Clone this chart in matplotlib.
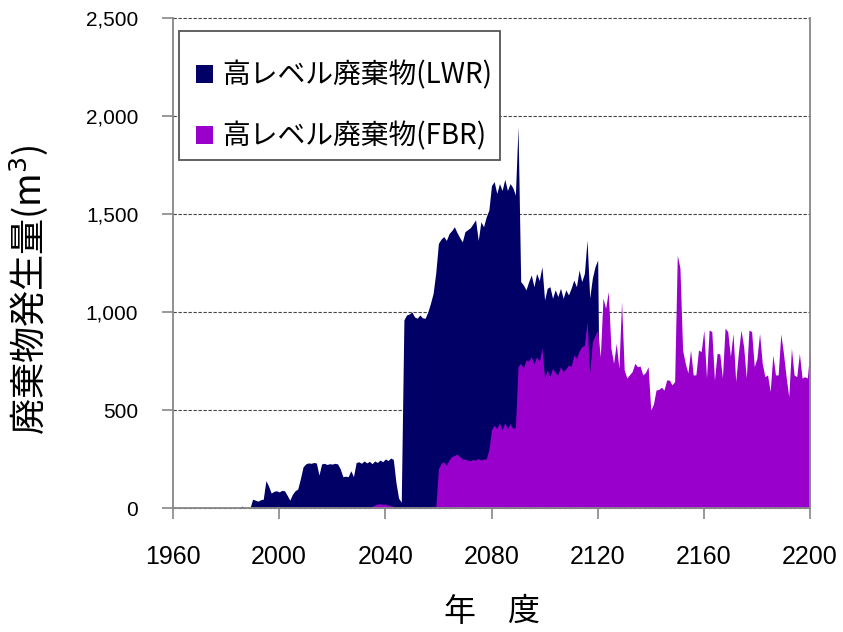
import numpy as np
import matplotlib
matplotlib.use("Agg")
import matplotlib.pyplot as plt
from matplotlib.patches import Rectangle

NAVY = "#000066"
PURPLE = "#9900CC"
CJK = ["Noto Sans CJK JP", "DejaVu Sans"]

# High-level waste, LWR (year, m3)
lwr_years = [1960, 1985, 1986, 1987, 1989, 1990, 1991, 1992, 1993, 1994, 1995, 1996, 1997, 1998, 1999,
             2000, 2001, 2002, 2003, 2004, 2005, 2006, 2007, 2008, 2009, 2010, 2011, 2012, 2013, 2014,
             2015, 2016, 2017, 2018, 2019, 2020, 2021, 2022, 2023, 2024, 2025, 2026, 2027, 2028, 2029,
             2030, 2031, 2032, 2033, 2034, 2035, 2036, 2037, 2038, 2039, 2040, 2041, 2042, 2043, 2044,
             2045, 2046, 2047, 2048, 2049, 2050, 2051, 2052, 2053, 2054, 2055, 2056, 2057, 2058, 2059,
             2060, 2061, 2062, 2063, 2064, 2065, 2066, 2067, 2068, 2069, 2070, 2071, 2072, 2073, 2074,
             2075, 2076, 2077, 2078, 2079, 2080, 2081, 2082, 2083, 2084, 2085, 2086, 2087, 2088, 2089,
             2090, 2091, 2092, 2093, 2094, 2095, 2096, 2097, 2098, 2099, 2100, 2101, 2102, 2103, 2104,
             2105, 2106, 2107, 2108, 2109, 2110, 2111, 2112, 2113, 2114, 2115, 2116, 2117, 2118, 2119,
             2120, 2121, 2200]
lwr_vals = [0, 0, 10, 0, 0, 45, 40, 35, 42, 45, 140, 112, 76, 85, 88,
            82, 90, 88, 65, 40, 70, 88, 97, 150, 210, 225, 230, 228, 232, 230,
            168, 225, 228, 222, 226, 224, 228, 225, 200, 160, 162, 160, 190, 160, 232,
            236, 228, 240, 230, 238, 226, 240, 232, 245, 236, 250, 242, 255, 248, 130,
            50, 30, 960, 985, 990, 1000, 975, 968, 985, 970, 968, 1000, 1044, 1095, 1200,
            1350, 1372, 1385, 1365, 1400, 1415, 1435, 1405, 1380, 1358, 1410, 1420, 1430, 1450, 1470,
            1365, 1460, 1435, 1485, 1520, 1645, 1665, 1605, 1655, 1620, 1677, 1620, 1655, 1635, 1597,
            1946, 1155, 1138, 1113, 1155, 1189, 1129, 1197, 1160, 1231, 1061, 1121, 1129, 1070, 1113,
            1079, 1121, 1070, 1113, 1087, 1121, 1163, 1129, 1214, 1155, 1197, 1367, 1071, 1173, 1231,
            1265, 0, 0]

# High-level waste, FBR
fbr_years = [1960, 2034, 2035, 2036, 2037, 2038, 2039, 2040, 2041, 2042, 2043, 2044, 2056, 2057, 2058,
             2059, 2060, 2061, 2062, 2063, 2064, 2065, 2066, 2067, 2068, 2069, 2070, 2071, 2072, 2073,
             2074, 2075, 2076, 2077, 2078, 2079, 2080, 2081, 2082, 2083, 2084, 2085, 2086, 2087, 2088,
             2089, 2090, 2091, 2092, 2093, 2094, 2095, 2096, 2097, 2098, 2099, 2100, 2101, 2102, 2103,
             2104, 2105, 2106, 2107, 2108, 2109, 2110, 2111, 2112, 2113, 2114, 2115, 2116, 2117, 2118,
             2119, 2120, 2121, 2122, 2123, 2124, 2125, 2126, 2127, 2128, 2129, 2130, 2131, 2132, 2133,
             2134, 2135, 2136, 2137, 2138, 2139, 2140, 2141, 2142, 2143, 2144, 2145, 2146, 2147, 2148,
             2149, 2150, 2151, 2152, 2153, 2154, 2155, 2156, 2157, 2158, 2159, 2160, 2161, 2162, 2163,
             2164, 2165, 2166, 2167, 2168, 2169, 2170, 2171, 2172, 2173, 2174, 2175, 2176, 2177, 2178,
             2179, 2180, 2181, 2182, 2183, 2184, 2185, 2186, 2187, 2188, 2189, 2190, 2191, 2192, 2193,
             2194, 2195, 2196, 2197, 2198, 2199, 2200]
fbr_vals = [0, 0, 8, 15, 20, 22, 18, 20, 15, 12, 8, 0, 0, 5, 8,
            5, 200, 228, 236, 219, 245, 262, 268, 275, 262, 250, 248, 245, 240, 248,
            245, 252, 245, 250, 250, 296, 400, 423, 405, 435, 398, 435, 405, 430, 406,
            410, 721, 738, 713, 755, 750, 772, 735, 772, 747, 815, 663, 704, 670, 713,
            690, 679, 721, 695, 710, 730, 721, 781, 764, 800, 823, 830, 951, 689, 849,
            880, 908, 770, 1071, 1019, 1104, 815, 738, 840, 713, 1053, 704, 663, 680, 696,
            738, 721, 724, 679, 691, 721, 500, 530, 602, 605, 616, 602, 653, 653, 628,
            645, 1291, 1224, 806, 738, 689, 806, 679, 679, 806, 798, 908, 663, 908, 900,
            653, 789, 786, 663, 918, 900, 772, 891, 645, 789, 908, 823, 663, 908, 900,
            721, 764, 891, 738, 670, 679, 594, 781, 679, 679, 888, 789, 670, 568, 815,
            679, 670, 789, 663, 670, 663, 816]

x_ticks = [1960, 2000, 2040, 2080, 2120, 2160, 2200]
y_ticks = [0, 500, 1000, 1500, 2000, 2500]

plt.rcParams["font.family"] = ["Liberation Sans", "Noto Sans CJK JP", "DejaVu Sans"]

fig = plt.figure(figsize=(8.43, 6.32), dpi=100)
ax = fig.add_axes([173 / 843, 1 - 508 / 632, 637 / 843, 490 / 632])

ax.fill_between(lwr_years, lwr_vals, color=NAVY, lw=0, label="高レベル廃棄物(LWR)")
ax.fill_between(fbr_years, fbr_vals, color=PURPLE, lw=0, label="高レベル廃棄物(FBR)")

ax.set_xlim(1960, 2200)
ax.set_ylim(0, 2500)
ax.set_xticks(x_ticks)
ax.set_yticks(y_ticks)
ax.set_yticklabels([f"{v:,}" for v in y_ticks])

ax.yaxis.grid(True, linestyle=(0, (3, 1.5)), color="#444444", linewidth=0.8)
ax.set_axisbelow(True)
for g in ax.get_ygridlines():
    g.set_clip_on(False)

for side in ["left", "bottom", "right"]:
    ax.spines[side].set_color("#888888")
    ax.spines[side].set_linewidth(1.3)
ax.spines["top"].set_visible(False)

ax.tick_params(axis="x", direction="out", length=8, width=1.2, color="#888888",
               labelsize=18, pad=19)
ax.tick_params(axis="y", direction="out", length=8, width=1.2, color="#888888",
               labelsize=15, pad=17)

ax.set_ylabel("廃棄物発生量(m$^3$)", family=CJK, fontsize=26)
ax.yaxis.set_label_coords(-0.193, 0.445)
ax.set_xlabel("年\u3000度", family=CJK, fontsize=23, labelpad=19)

# legend box drawn on its own, entries sit a bit low in it like the original
ax.add_patch(Rectangle((0.0094, 0.7102), 0.5039, 0.2633, transform=ax.transAxes,
                       facecolor="white", edgecolor="#555555", lw=1.3, zorder=4.5))
leg = ax.legend(loc="upper left", bbox_to_anchor=(0.0012, 0.958), borderaxespad=0,
                prop={"family": CJK, "size": 20}, frameon=False,
                handlelength=0.62, handleheight=0.62, handletextpad=0.33,
                labelspacing=1.1, borderpad=0.8)
leg.set_zorder(6)

plt.savefig("out.png", dpi=100)
